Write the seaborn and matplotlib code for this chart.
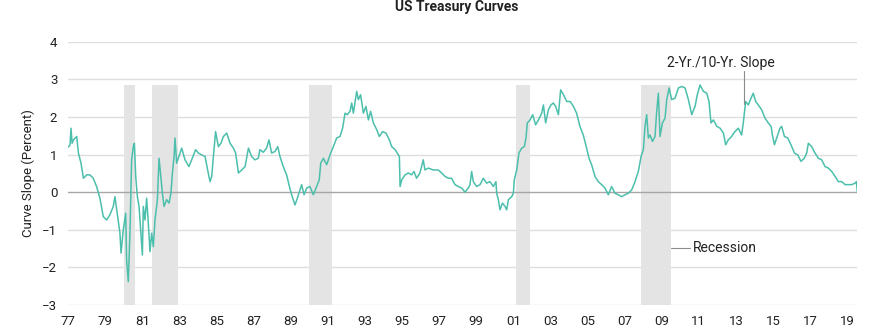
import matplotlib
matplotlib.use("Agg")
import matplotlib.pyplot as plt
import seaborn as sns
import pandas as pd

# ---- data -------------------------------------------------------------
years = [1977.0, 1977.09, 1977.14, 1977.20, 1977.27, 1977.45, 1977.54, 1977.68, 1977.81, 1977.99,
         1978.16, 1978.34, 1978.52, 1978.70, 1978.88, 1979.06, 1979.24, 1979.42, 1979.51,
         1979.66, 1979.78, 1979.84, 1979.96, 1980.09, 1980.14, 1980.23, 1980.32, 1980.41,
         1980.50, 1980.56, 1980.63, 1980.72, 1980.81, 1980.92, 1980.99, 1981.04, 1981.13,
         1981.22, 1981.31, 1981.40, 1981.49, 1981.58, 1981.67, 1981.80, 1981.89, 1981.98,
         1982.07, 1982.16, 1982.30, 1982.43, 1982.53, 1982.61, 1982.70, 1982.75, 1982.84,
         1983.02, 1983.11, 1983.29, 1983.50, 1983.65, 1983.86, 1984.01, 1984.19, 1984.37,
         1984.51, 1984.64, 1984.73, 1984.82, 1984.94, 1985.09, 1985.23, 1985.36, 1985.54,
         1985.72, 1985.90, 1986.02, 1986.17, 1986.35, 1986.53, 1986.71, 1986.88, 1987.06,
         1987.24, 1987.33, 1987.51, 1987.69, 1987.82, 1987.96, 1988.14, 1988.29, 1988.41,
         1988.59, 1988.77, 1988.92, 1989.04, 1989.22, 1989.35, 1989.49, 1989.58, 1989.71,
         1989.85, 1990.03, 1990.21, 1990.39, 1990.53, 1990.61, 1990.75, 1990.93, 1991.11,
         1991.29, 1991.47, 1991.65, 1991.79, 1991.92, 1992.04, 1992.19, 1992.28, 1992.37,
         1992.55, 1992.64, 1992.76, 1992.91, 1993.05, 1993.18, 1993.30, 1993.45, 1993.63,
         1993.77, 1993.95, 1994.13, 1994.31, 1994.44, 1994.62, 1994.85, 1994.89, 1994.98,
         1995.16, 1995.33, 1995.51, 1995.64, 1995.78, 1995.96, 1996.14, 1996.23, 1996.41,
         1996.68, 1996.95, 1997.13, 1997.31, 1997.49, 1997.67, 1997.85, 1998.03, 1998.21,
         1998.39, 1998.57, 1998.66, 1998.75, 1998.84, 1999.02, 1999.20, 1999.38, 1999.56,
         1999.74, 1999.92, 2000.06, 2000.10, 2000.19, 2000.28, 2000.41, 2000.55, 2000.64,
         2000.73, 2000.91, 2001.00, 2001.05, 2001.18, 2001.30, 2001.45, 2001.59, 2001.68,
         2001.75, 2001.90, 2002.04, 2002.20, 2002.35, 2002.53, 2002.62, 2002.74, 2002.89,
         2003.03, 2003.16, 2003.28, 2003.43, 2003.55, 2003.70, 2003.88, 2004.06, 2004.24,
         2004.41, 2004.59, 2004.77, 2004.95, 2005.08, 2005.22, 2005.40, 2005.58, 2005.76,
         2005.94, 2006.12, 2006.30, 2006.48, 2006.66, 2006.84, 2007.02, 2007.20, 2007.38,
         2007.56, 2007.74, 2007.89, 2008.01, 2008.10, 2008.19, 2008.28, 2008.37, 2008.50,
         2008.64, 2008.73, 2008.82, 2008.91, 2009.04, 2009.18, 2009.27, 2009.40, 2009.54,
         2009.72, 2009.90, 2010.08, 2010.26, 2010.44, 2010.62, 2010.80, 2010.92, 2011.07,
         2011.25, 2011.43, 2011.55, 2011.66, 2011.79, 2011.97, 2012.15, 2012.33, 2012.45,
         2012.59, 2012.77, 2012.95, 2013.13, 2013.31, 2013.40, 2013.53, 2013.67, 2013.82,
         2013.94, 2014.07, 2014.21, 2014.39, 2014.57, 2014.75, 2014.90, 2014.97, 2015.08,
         2015.20, 2015.38, 2015.47, 2015.62, 2015.80, 2015.97, 2016.16, 2016.34, 2016.51,
         2016.69, 2016.82, 2016.91, 2017.09, 2017.27, 2017.45, 2017.63, 2017.81, 2017.99,
         2018.17, 2018.35, 2018.53, 2018.71, 2018.89, 2019.07, 2019.25, 2019.43, 2019.50,
         2019.55]

slope = [1.20, 1.26, 1.70, 1.30, 1.39, 1.48, 1.04, 0.77, 0.37, 0.46,
         0.46, 0.37, 0.15, -0.16, -0.65, -0.74, -0.60, -0.38, -0.12,
         -0.65, -1.09, -1.62, -1.00, -0.56, -1.80, -2.38, -1.09, 0.86,
         1.21, 1.30, 0.42, -0.12, -0.38, -1.18, -1.67, -0.38, -0.74,
         -0.16, -0.82, -1.58, -1.09, -1.45, -0.74, -0.20, 0.90, 0.42,
         -0.03, -0.38, -0.20, -0.29, -0.03, 0.51, 0.95, 1.44, 0.77,
         1.04, 1.17, 0.86, 0.68, 0.86, 1.13, 1.04, 0.99, 0.95,
         0.59, 0.28, 0.42, 0.95, 1.61, 1.21, 1.30, 1.48, 1.57,
         1.30, 1.17, 1.04, 0.51, 0.59, 0.68, 1.17, 0.95, 0.86,
         0.90, 1.13, 1.06, 1.17, 1.39, 1.04, 1.08, 1.21, 0.95,
         0.68, 0.46, 0.15, -0.07, -0.34, -0.16, 0.06, 0.20, -0.07,
         0.11, 0.15, -0.07, 0.15, 0.33, 0.77, 0.90, 0.73, 0.99,
         1.21, 1.44, 1.48, 1.70, 2.10, 2.06, 2.15, 2.37, 2.10,
         2.68, 2.46, 2.59, 2.10, 2.28, 1.92, 2.15, 1.84, 1.66,
         1.48, 1.61, 1.57, 1.39, 1.21, 1.13, 0.95, 0.15, 0.33,
         0.46, 0.51, 0.46, 0.55, 0.37, 0.51, 0.86, 0.59, 0.64,
         0.59, 0.59, 0.51, 0.42, 0.37, 0.37, 0.20, 0.15, 0.11,
         0.00, 0.11, 0.20, 0.55, 0.28, 0.15, 0.20, 0.37, 0.24,
         0.28, 0.15, 0.28, -0.03, -0.20, -0.47, -0.29, -0.38, -0.47,
         -0.20, -0.12, -0.03, 0.33, 0.59, 1.04, 1.17, 1.21, 1.44,
         1.84, 1.92, 2.06, 1.79, 1.92, 2.10, 2.32, 1.84, 2.19,
         2.32, 2.37, 2.28, 2.06, 2.72, 2.59, 2.41, 2.41, 2.28,
         2.10, 1.75, 1.52, 1.17, 0.90, 0.73, 0.42, 0.28, 0.20,
         0.11, -0.07, 0.15, -0.03, -0.07, -0.12, -0.07, -0.03, 0.06,
         0.28, 0.55, 0.95, 1.13, 1.75, 2.06, 1.44, 1.52, 1.35,
         1.48, 2.15, 2.63, 1.48, 1.84, 1.97, 2.46, 2.77, 2.46,
         2.50, 2.77, 2.81, 2.77, 2.46, 2.06, 2.28, 2.59, 2.85,
         2.68, 2.63, 2.41, 1.84, 1.92, 1.75, 1.70, 1.57, 1.26,
         1.39, 1.48, 1.61, 1.70, 1.52, 1.84, 2.41, 2.32, 2.50,
         2.63, 2.41, 2.32, 2.19, 1.97, 1.84, 1.75, 1.52, 1.26,
         1.44, 1.70, 1.75, 1.48, 1.44, 1.26, 1.04, 0.99, 0.82,
         0.90, 1.04, 1.30, 1.21, 1.04, 0.90, 0.86, 0.68, 0.64,
         0.55, 0.42, 0.28, 0.28, 0.20, 0.20, 0.20, 0.24, 0.28,
         0.02]

rec_start = [1980.0, 1981.5, 1990.0, 2001.12, 2007.9]
rec_end = [1980.59, 1982.93, 1991.22, 2001.9, 2009.5]
rec_top = 2.84

tick_years = list(range(1977, 2020, 2))
tick_labels = [f"{y % 100:02d}" for y in tick_years]
y_ticks = [-3, -2, -1, 0, 1, 2, 3, 4]

title = "US Treasury Curves"
y_label = "Curve Slope (Percent)"
series_label = "2-Yr./10-Yr. Slope"
rec_label = "Recession"

# ---- plot -------------------------------------------------------------
sns.set_theme(style="white")
plt.rcParams["font.family"] = ["Roboto", "DejaVu Sans"]

df = pd.DataFrame({"year": years, "slope": slope})

fig = plt.figure(figsize=(8.8, 3.3), dpi=100)
ax = fig.add_axes([68.4 / 880, 25 / 330, (857.3 - 68.4) / 880, 263.3 / 330])

ax.set_xlim(1977.0, 2019.55)
ax.set_ylim(-3, 4)

for yv in y_ticks:
    if yv == 0:
        ax.axhline(yv, color="#a6a6a6", lw=1.0, zorder=1)
    else:
        ax.axhline(yv, color="#dedede", lw=1.0, zorder=0)

for s, e in zip(rec_start, rec_end):
    ax.fill_between([s, e], -3, rec_top, color="#e4e4e4", lw=0, zorder=0.5)

sns.lineplot(data=df, x="year", y="slope", ax=ax, color="#4cbfac", lw=1.1,
             estimator=None, sort=False, zorder=3)

ax.set_xticks(tick_years)
ax.set_xticklabels(tick_labels)
ax.set_yticks(y_ticks)
ax.tick_params(axis="both", length=0, labelsize=9.5, colors="#222222")
ax.tick_params(axis="y", pad=8)
ax.tick_params(axis="x", pad=7)
ax.set_xlabel("")
ax.set_ylabel(y_label, fontsize=9.5, color="#222222")
ax.yaxis.set_label_coords((35 - 68.4) / 788.9, (330 - 25 - 173) / 263.3)
for sp in ax.spines.values():
    sp.set_visible(False)

# annotations
ax.plot([2013.46, 2013.46], [3.22, 2.35], color="#8c8c8c", lw=0.8, zorder=4)
ax.text(2012.2, 3.44, series_label, ha="center", va="center", fontsize=10, color="#222222")
ax.plot([2009.5, 2010.52], [-1.49, -1.49], color="#8c8c8c", lw=0.8, zorder=4)
ax.text(2010.69, -1.49, rec_label, ha="left", va="center", fontsize=10, color="#222222")

fig.text(457 / 880, 1 - 7 / 330, title, ha="center", va="center", fontsize=10,
         fontweight="bold", color="#222222")

fig.savefig("out.png", dpi=100)
